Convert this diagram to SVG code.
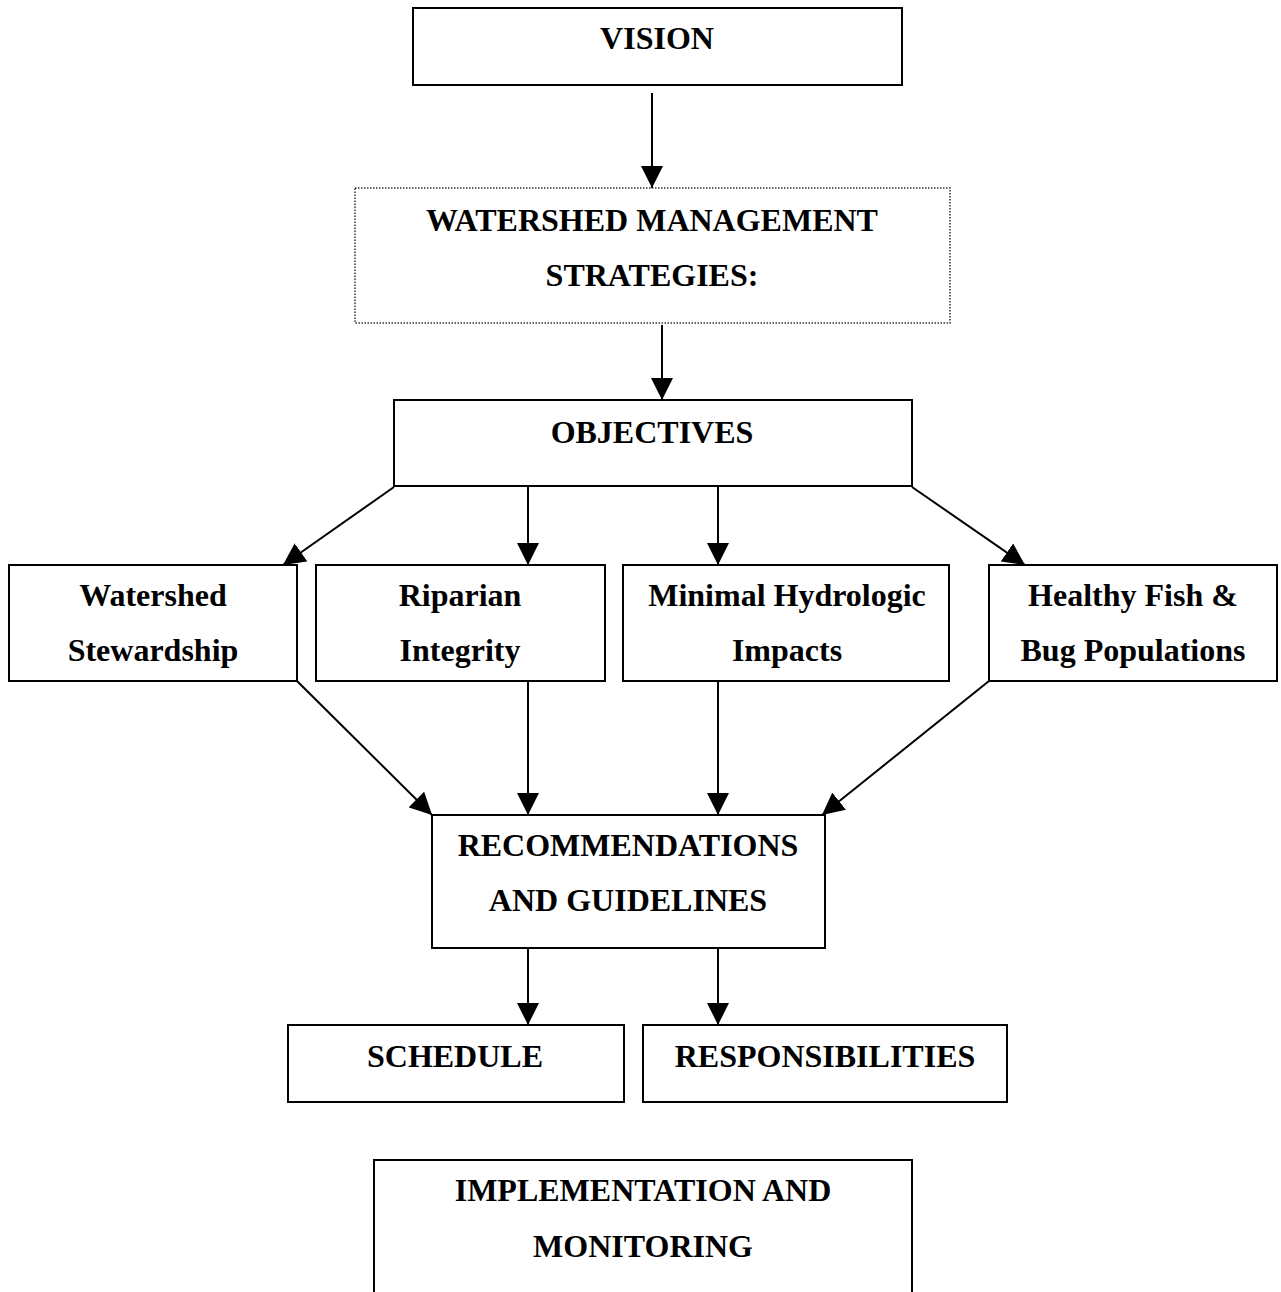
<svg xmlns="http://www.w3.org/2000/svg" width="1281" height="1292" viewBox="0 0 1281 1292">
<style>
.box{fill:#fff;stroke:#000;stroke-width:2}
.dot{fill:#fff;stroke:#333;stroke-width:1.5;stroke-dasharray:1.5 1.5}
text{font-family:"Liberation Serif","Times New Roman",serif;font-weight:bold;font-size:32px;text-anchor:middle;fill:#000}
.c line{stroke:#000;stroke-width:2;marker-end:url(#ah)}
</style>
<defs>
<marker id="ah" markerUnits="userSpaceOnUse" markerWidth="22" markerHeight="22" viewBox="0 0 22 22" refX="22" refY="11" orient="auto">
<path d="M0,0 L22,11 L0,22 z" fill="#000"/>
</marker>
</defs>
<rect width="1281" height="1292" fill="#fff"/>
<g class="c" id="connectors">
<line x1="652" y1="93" x2="652" y2="188"/>
<line x1="662" y1="325" x2="662" y2="400"/>
<line x1="394" y1="487" x2="283" y2="565"/>
<line x1="528" y1="487" x2="528" y2="565"/>
<line x1="718" y1="487" x2="718" y2="565"/>
<line x1="912" y1="487" x2="1025" y2="565"/>
<line x1="297" y1="681" x2="432" y2="815"/>
<line x1="528" y1="681" x2="528" y2="815"/>
<line x1="718" y1="681" x2="718" y2="815"/>
<line x1="989" y1="681" x2="822" y2="815"/>
<line x1="528" y1="948" x2="528" y2="1025"/>
<line x1="718" y1="948" x2="718" y2="1025"/>
</g>
<g id="vision"><rect class="box" x="413" y="8" width="489" height="77"/><text x="657" y="49">VISION</text></g>
<g id="wms"><rect class="dot" x="355" y="188" width="595" height="135"/><text x="652" y="231">WATERSHED MANAGEMENT</text><text x="652" y="286">STRATEGIES:</text></g>
<g id="objectives"><rect class="box" x="394" y="400" width="518" height="86"/><text x="652" y="443">OBJECTIVES</text></g>
<g id="stewardship"><rect class="box" x="9" y="565" width="288" height="116"/><text x="153" y="606">Watershed</text><text x="153" y="661">Stewardship</text></g>
<g id="riparian"><rect class="box" x="316" y="565" width="289" height="116"/><text x="460" y="606">Riparian</text><text x="460" y="661">Integrity</text></g>
<g id="hydrologic"><rect class="box" x="623" y="565" width="326" height="116"/><text x="787" y="606">Minimal Hydrologic</text><text x="787" y="661">Impacts</text></g>
<g id="fish"><rect class="box" x="989" y="565" width="288" height="116"/><text x="1133" y="606">Healthy Fish &amp;</text><text x="1133" y="661">Bug Populations</text></g>
<g id="recommendations"><rect class="box" x="432" y="815" width="393" height="133"/><text x="628" y="856">RECOMMENDATIONS</text><text x="628" y="911">AND GUIDELINES</text></g>
<g id="schedule"><rect class="box" x="288" y="1025" width="336" height="77"/><text x="455" y="1067">SCHEDULE</text></g>
<g id="responsibilities"><rect class="box" x="643" y="1025" width="364" height="77"/><text x="825" y="1067">RESPONSIBILITIES</text></g>
<g id="implementation"><path d="M374,1295 V1160 H912 V1295" fill="#fff" stroke="#000" stroke-width="2"/><text x="643" y="1201">IMPLEMENTATION AND</text><text x="643" y="1257">MONITORING</text></g>
</svg>
